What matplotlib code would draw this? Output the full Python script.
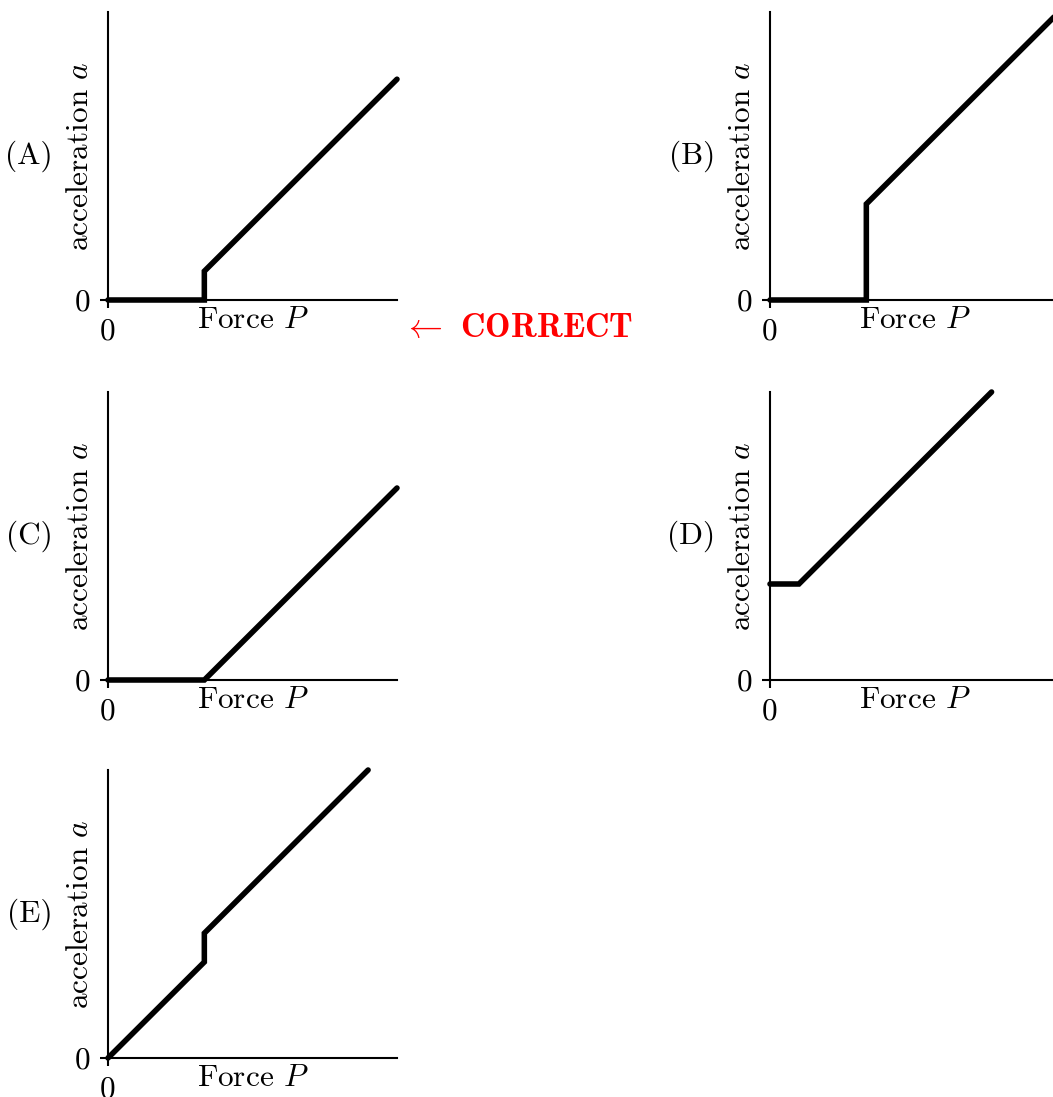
import matplotlib
matplotlib.use('Agg')
import matplotlib.pyplot as plt

plt.rcParams['font.family'] = 'cmr10'
plt.rcParams['mathtext.fontset'] = 'cm'
plt.rcParams['axes.formatter.use_mathtext'] = True
plt.rcParams['font.size'] = 22.5

# panel data: force P and acceleration a
labels = ['(A)', '(B)', '(C)', '(D)', '(E)']
P_A = [0, 1, 1, 3]
a_A = [0, 0, 0.3, 2.3]
P_B = [0, 1, 1, 3]
a_B = [0, 0, 1, 3]
P_C = [0, 1, 3]
a_C = [0, 0, 2]
P_D = [0, 0.3, 2.3]
a_D = [1, 1, 3]
P_E = [0, 1, 1, 2.7]
a_E = [0, 1, 1.3, 3]
curves = [(P_A, a_A), (P_B, a_B), (P_C, a_C), (P_D, a_D), (P_E, a_E)]
correct = '(A)'

W, H = 1053, 1097
fig = plt.figure(figsize=(W / 100, H / 100), dpi=100)

# axes boxes in pixels: left, top
boxes = [(108, 12), (770, 12), (108, 392), (770, 392), (108, 770)]
aw, ah = 289, 288

for lab, (P, a), (left, top) in zip(labels, curves, boxes):
    ax = fig.add_axes([left / W, 1 - (top + ah) / H, aw / W, ah / H])
    ax.plot(P, a, color='black', lw=4, solid_capstyle='round',
            solid_joinstyle='miter', clip_on=False, zorder=3)
    ax.set_xlim(0, 3)
    ax.set_ylim(0, 3)
    for s in ['top', 'right']:
        ax.spines[s].set_visible(False)
    for s in ['left', 'bottom']:
        ax.spines[s].set_linewidth(1.5)
    ax.set_xticks([0])
    ax.set_yticks([0])
    ax.set_xticklabels(['0'])
    ax.set_yticklabels(['0'])
    ax.tick_params(length=6, width=1.5, pad=7)
    ax.set_xlabel('Force $P$')
    ax.xaxis.set_label_coords(0.5, -0.02)
    ax.set_ylabel('acceleration $a$')
    ax.yaxis.set_label_coords(-0.05, 0.5)
    ax.text(-0.19, 0.5, lab, transform=ax.transAxes, ha='right', va='center')
    if lab == correct:
        ax.text(1.02, -0.10, r'$\leftarrow$ $\mathbf{CORRECT}$', transform=ax.transAxes,
                ha='left', va='center', color='red', fontsize=24.5)

fig.savefig('out.png', dpi=100)
